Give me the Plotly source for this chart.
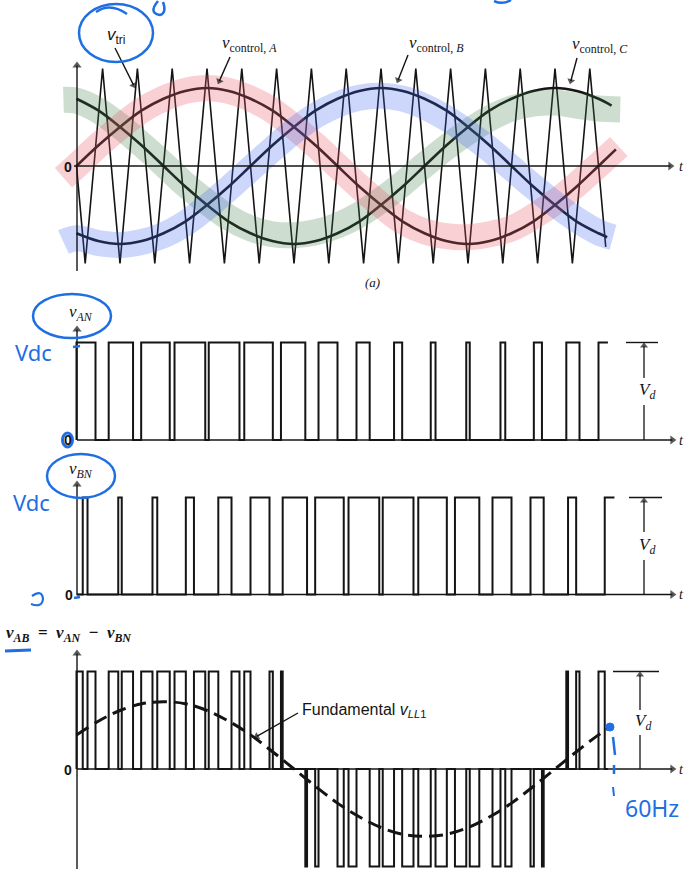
import math
import plotly.graph_objects as go

W, H = 685, 869

# ---------------- data (angles in electrical degrees of one fundamental cycle) ----------------
tri_theta = [0, 6, 18, 30, 42, 54, 66, 78, 90, 102, 114, 126, 138, 150, 162, 174, 186, 198,
             210, 222, 234, 246, 258, 270, 282, 294, 306, 318, 330, 342, 354, 365]
tri_value = [0, -1, 1, -1, 1, -1, 1, -1, 1, -1, 1, -1, 1, -1, 1, -1, 1, -1,
             1, -1, 1, -1, 1, -1, 1, -1, 1, -1, 1, -1, 1, -0.83]

ctrl_A_theta = [0, 15, 30, 45, 60, 75, 90, 105, 120, 135, 150, 165, 180, 195, 210, 225, 240,
                255, 270, 285, 300, 315, 330, 345, 360, 372]
ctrl_A = [0, 0.21, 0.40, 0.57, 0.69, 0.77, 0.80, 0.77, 0.69, 0.57, 0.40, 0.21, 0, -0.21, -0.40,
          -0.57, -0.69, -0.77, -0.80, -0.77, -0.69, -0.57, -0.40, -0.21, 0, 0.17]
ctrl_B_theta = [0, 15, 30, 45, 60, 75, 90, 105, 120, 135, 150, 165, 180, 195, 210, 225, 240,
                255, 270, 285, 300, 315, 330, 345, 360, 366]
ctrl_B = [-0.69, -0.77, -0.80, -0.77, -0.69, -0.57, -0.40, -0.21, 0, 0.21, 0.40, 0.57, 0.69,
          0.77, 0.80, 0.77, 0.69, 0.57, 0.40, 0.21, 0, -0.21, -0.40, -0.57, -0.69, -0.73]
ctrl_C_theta = [0, 15, 30, 45, 60, 75, 90, 105, 120, 135, 150, 165, 180, 195, 210, 225, 240,
                255, 270, 285, 300, 315, 330, 345, 360, 369]
ctrl_C = [0.69, 0.57, 0.40, 0.21, 0, -0.21, -0.40, -0.57, -0.69, -0.77, -0.80, -0.77, -0.69,
          -0.57, -0.40, -0.21, 0, 0.21, 0.40, 0.57, 0.69, 0.77, 0.80, 0.77, 0.69, 0.62]

# hand-drawn highlighter strokes over the control signals
band_A_theta = [-9, 0, 15, 30, 45, 60, 75, 90, 105, 120, 135, 150, 165, 180, 195, 210, 225,
                240, 255, 270, 285, 300, 315, 330, 345, 360, 374]
band_A = [-0.12, 0, 0.21, 0.40, 0.57, 0.69, 0.77, 0.80, 0.77, 0.69, 0.57, 0.40, 0.21, 0, -0.21,
          -0.40, -0.57, -0.67, -0.72, -0.73, -0.70, -0.64, -0.52, -0.37, -0.19, 0.01, 0.20]
band_B_theta = [-9, 0, 15, 30, 45, 60, 75, 90, 105, 120, 135, 150, 165, 180, 195, 210, 225,
                240, 255, 270, 285, 300, 315, 330, 345, 360, 370]
band_B = [-0.78, -0.74, -0.79, -0.81, -0.78, -0.71, -0.59, -0.42, -0.23, -0.03, 0.17, 0.36, 0.52,
          0.63, 0.70, 0.72, 0.69, 0.61, 0.49, 0.34, 0.17, -0.02, -0.21, -0.39, -0.55, -0.68, -0.73]
band_C_theta = [-9, 0, 15, 30, 45, 60, 75, 90, 105, 120, 135, 150, 165, 180, 195, 210, 225,
                240, 255, 270, 285, 300, 315, 330, 345, 360, 375]
band_C = [0.68, 0.67, 0.57, 0.41, 0.22, 0.02, -0.19, -0.37, -0.53, -0.64, -0.70, -0.71, -0.68,
          -0.61, -0.50, -0.35, -0.18, 0.01, 0.19, 0.35, 0.49, 0.59, 0.64, 0.65, 0.62, 0.59, 0.58]

# switching instants of the pole voltages (start / end of each "high" interval)
vAN_on = [0, 22.2, 44.6, 67.6, 91.2, 115.7, 141.0, 166.9, 193.1, 219.0, 244.3, 268.8, 292.4,
          315.4, 337.8, 360.0]
vAN_off = [13.1, 39.0, 64.3, 88.8, 112.4, 135.4, 157.8, 180.0, 202.2, 224.6, 247.6, 271.2,
           295.7, 321.0, 346.9, 366.5]
vBN_on = [4.3, 28.8, 52.4, 75.4, 97.8, 120.0, 142.2, 164.6, 187.6, 211.2, 235.7, 261.0, 286.9,
          313.1, 339.0, 364.3]
vBN_off = [7.6, 31.2, 55.7, 81.0, 106.9, 133.1, 159.0, 184.3, 208.8, 232.4, 255.4, 277.8, 300.0,
           322.2, 344.6, 371.0]

fund_theta = [0, 15, 30, 45, 60, 75, 90, 105, 120, 135, 150, 165, 180, 195, 210, 225, 240, 255,
              270, 285, 300, 315, 330, 345, 360, 369]
fund_value = [0.35, 0.49, 0.60, 0.67, 0.69, 0.67, 0.60, 0.49, 0.35, 0.18, 0, -0.18, -0.35, -0.49,
              -0.60, -0.67, -0.69, -0.67, -0.60, -0.49, -0.35, -0.18, 0, 0.18, 0.35, 0.44]

# ---------------- layout constants ----------------
X0_PX, PX_PER_DEG = 76.5, 1.45
PANELS = {"a": (166.0, 97.5), "an": (440.0, 97.5), "bn": (594.5, 97.0), "ab": (769.0, 97.5)}
BLACK = "#141414"
BLUE = "#1f6fe3"
SERIF = "Liberation Serif"
SANS = "Liberation Sans"


def px(x):
    return x / W


def py(y):
    return 1 - y / H


def level(on, off, t):
    return 1 if any(a <= t < b for a, b in zip(on, off)) else 0


def step_xy(breaks, func):
    xs, ys = [breaks[0]], [0]
    for a, b in zip(breaks[:-1], breaks[1:]):
        v = func(0.5 * (a + b))
        xs += [a, b]
        ys += [v, v]
    return xs, ys


fig = go.Figure()

# panel (a): carrier + control signals
fig.add_trace(go.Scatter(x=tri_theta, y=tri_value, mode="lines", yaxis="y",
                         line=dict(color=BLACK, width=1.6)))
for th, vals in ((ctrl_A_theta, ctrl_A), (ctrl_B_theta, ctrl_B), (ctrl_C_theta, ctrl_C)):
    fig.add_trace(go.Scatter(x=th, y=vals, mode="lines", yaxis="y",
                             line=dict(color=BLACK, width=2.6, shape="spline", smoothing=1)))
for th, vals, col in ((band_C_theta, band_C, "rgba(60,125,75,0.26)"),
                      (band_A_theta, band_A, "rgba(235,85,100,0.28)"),
                      (band_B_theta, band_B, "rgba(60,100,240,0.26)")):
    fig.add_trace(go.Scatter(x=th, y=vals, mode="lines", yaxis="y",
                             line=dict(color=col, width=26, shape="spline", smoothing=1)))

# pole voltages
an_breaks = sorted(set(vAN_on + vAN_off))
x, y = step_xy(an_breaks, lambda t: level(vAN_on, vAN_off, t))
x, y = [0] + x[1:], [0] + y[1:]
fig.add_trace(go.Scatter(x=x, y=y, mode="lines", yaxis="y2", line=dict(color=BLACK, width=2)))
bn_breaks = sorted(set([0] + vBN_on + vBN_off))
x, y = step_xy(bn_breaks, lambda t: level(vBN_on, vBN_off, t))
fig.add_trace(go.Scatter(x=x, y=y, mode="lines", yaxis="y3", line=dict(color=BLACK, width=2)))

# line-to-line voltage vAB = vAN - vBN
ab_end = vAN_off[-1]
ab_breaks = sorted(set(b for b in [0] + vAN_on + vAN_off + vBN_on + vBN_off if b <= ab_end))
x, y = step_xy(ab_breaks, lambda t: level(vAN_on, vAN_off, t) - level(vBN_on, vBN_off, t))
x, y = x + [ab_end], y + [0]
fig.add_trace(go.Scatter(x=x, y=y, mode="lines", yaxis="y4", line=dict(color=BLACK, width=2)))
fig.add_trace(go.Scatter(x=fund_theta, y=fund_value, mode="lines", yaxis="y4",
                         line=dict(color=BLACK, width=3, dash="14px,7px", shape="spline")))

# ---------------- axes ----------------
x_range = [-X0_PX / PX_PER_DEG, (W - X0_PX) / PX_PER_DEG]
layout_axes = {"xaxis": dict(range=x_range, visible=False, domain=[0, 1], fixedrange=True)}
for i, key in enumerate(["a", "an", "bn", "ab"]):
    z, u = PANELS[key]
    ax = dict(range=[-(H - z) / u, z / u], visible=False, domain=[0, 1], fixedrange=True)
    if i:
        ax["overlaying"] = "y"
    layout_axes["yaxis" if i == 0 else f"yaxis{i + 1}"] = ax

annotations, shapes = [], []
heads_x, heads_y, heads_ang, heads_col, heads_size = [], [], [], [], []


def text(x, y, s, size=13, family=SERIF, color=BLACK, xanchor="center"):
    annotations.append(dict(x=px(x), y=py(y), xref="paper", yref="paper", text=s, showarrow=False,
                            xanchor=xanchor, yanchor="middle",
                            font=dict(size=size, family=family, color=color)))


def line(x0, y0, x1, y1, width=1.3, color=BLACK):
    shapes.append(dict(type="line", xref="paper", yref="paper", x0=px(x0), y0=py(y0),
                       x1=px(x1), y1=py(y1), line=dict(color=color, width=width)))


def arrow(hx, hy, tx, ty, width=1.3, color=BLACK, size=8):
    dx, dy = hx - tx, hy - ty
    n = math.hypot(dx, dy)
    ux, uy = dx / n, dy / n
    back = size * 0.45
    cx, cy = hx - ux * back, hy - uy * back
    line(tx, ty, cx, cy, width=width, color=color)
    z, u = PANELS["a"]
    heads_x.append((cx - X0_PX) / PX_PER_DEG)
    heads_y.append((z - cy) / u)
    heads_ang.append(math.degrees(math.atan2(dx, -dy)))
    heads_col.append(color)
    heads_size.append(size)


def ellipse(cx, cy, rx, ry, width=2.5, color=BLUE, fill="rgba(0,0,0,0)"):
    shapes.append(dict(type="circle", xref="paper", yref="paper", x0=px(cx - rx), x1=px(cx + rx),
                       y0=py(cy + ry), y1=py(cy - ry), fillcolor=fill,
                       line=dict(color=color, width=width)))


def path(pts, width=2.5, color=BLUE):
    parts = []
    for cmd, coords in pts:
        pairs = [f"{px(coords[i])},{py(coords[i + 1])}" for i in range(0, len(coords), 2)]
        parts.append(cmd + " " + " ".join(pairs))
    shapes.append(dict(type="path", xref="paper", yref="paper", path=" ".join(parts),
                       line=dict(color=color, width=width)))


# axis arrows
arrow(77, 62, 77, 271, width=1.4)
arrow(674, 166, 74, 166, width=1.4)
arrow(77, 326, 77, 440, width=1.4)
arrow(676, 440, 77, 440, width=1.4)
arrow(77, 481, 77, 594.5, width=1.4)
arrow(676, 594.5, 77, 594.5, width=1.4)
arrow(77, 650, 77, 869, width=1.4)
arrow(676, 769, 77, 769, width=1.4)

for yy in (166, 440, 594.5, 769):
    text(681, yy, "<i>t</i>", size=14)
text(68, 167, "<b>0</b>", size=14, family=SANS)
text(68, 440, "<b>0</b>", size=14, family=SANS)
text(69, 595, "<b>0</b>", size=14, family=SANS)
text(68, 770, "<b>0</b>", size=14, family=SANS)

# panel (a) labels
text(116, 36, "<i>v</i><sub>tri</sub>", size=17, family=SANS)
arrow(135, 88, 115, 48, width=1.4, size=7)
text(249, 44, "<i>v</i><sub>control, <i>A</i></sub>", size=17)
arrow(218, 84, 230, 57, width=1.4, size=7)
text(436, 44, "<i>v</i><sub>control, <i>B</i></sub>", size=17)
arrow(397, 83, 408, 55, width=1.4, size=7)
text(600, 45, "<i>v</i><sub>control, <i>C</i></sub>", size=17)
arrow(570, 84, 577, 58, width=1.4, size=7)
text(372, 283, "<i>(a)</i>", size=13)

# pole voltage labels
text(81, 313, "<i>v<sub>AN</sub></i>", size=17)
text(81, 470, "<i>v<sub>BN</sub></i>", size=17)
text(4, 634, "<b><i>v<sub>AB</sub></i>  =  <i>v<sub>AN</sub></i>  −  <i>v<sub>BN</sub></i></b>",
     size=17, xanchor="left")
text(300, 710, "Fundamental <i>v</i><sub><i>LL</i>1</sub>", size=16, family=SANS, xanchor="left")
arrow(254, 738, 298, 713, width=1.4, size=7)

# V_d markers
for top, zero, xa, x0l, x1l, lab, tail, low in (
        (342.5, 440, 644, 626, 658, 391, 378, 405),
        (497.5, 594.5, 644, 629, 662, 546, 532, 560),
        (671.5, 769, 640, 613, 659, 722, 710, 735)):
    line(x0l, top, x1l, top, width=1.4)
    arrow(xa, top, xa, tail, width=1.3, size=7)
    line(xa, low, xa, zero, width=1.3)
    text(xa + 3, lab, "<i>V<sub>d</sub></i>", size=17)

fig.add_trace(go.Scatter(x=heads_x, y=heads_y, mode="markers", yaxis="y",
                         marker=dict(symbol="triangle-up", size=heads_size, angle=heads_ang,
                                     color=heads_col, line=dict(width=0))))

# ---------------- hand-written blue annotations ----------------
ellipse(116, 33, 37, 29)
path([("M", [96, 12]), ("Q", [110, 2, 127, 14])])
path([("M", [158, 1]), ("Q", [148, 13, 160, 15]), ("Q", [167, 13, 163, 2])])
path([("M", [494, 1]), ("Q", [503, 5, 511, 0])])
ellipse(72, 316, 39, 22)
ellipse(81, 476, 34, 22)
ellipse(67.5, 440, 5, 7, width=3)
path([("M", [32, 596]), ("Q", [42, 589, 43, 599]), ("Q", [42, 608, 31, 604])], width=2.2)
line(5, 651, 31, 650, width=3, color=BLUE)
line(73, 347, 80, 346, width=2.5, color=BLUE)
line(74, 598, 80, 597, width=2.5, color=BLUE)
text(33, 352, "Vdc", size=22, family="Noto Sans", color=BLUE)
text(31, 502, "Vdc", size=22, family="Noto Sans", color=BLUE)
ellipse(610, 727, 4, 4, width=1, fill=BLUE)
line(613, 737, 615, 755, width=2.5, color=BLUE)
line(614, 765, 614, 774, width=2.5, color=BLUE)
line(613, 787, 614, 796, width=2, color=BLUE)
text(623, 808, "60Hz", size=23, family="Noto Sans", color=BLUE, xanchor="left")

fig.update_layout(width=W, height=H, margin=dict(l=0, r=0, t=0, b=0),
                  paper_bgcolor="white", plot_bgcolor="white", showlegend=False,
                  annotations=annotations, shapes=shapes, **layout_axes)

fig.write_html("out.html", config={"displayModeBar": False, "staticPlot": True},
               post_script="document.body.style.margin='0';document.body.style.padding='0';")
